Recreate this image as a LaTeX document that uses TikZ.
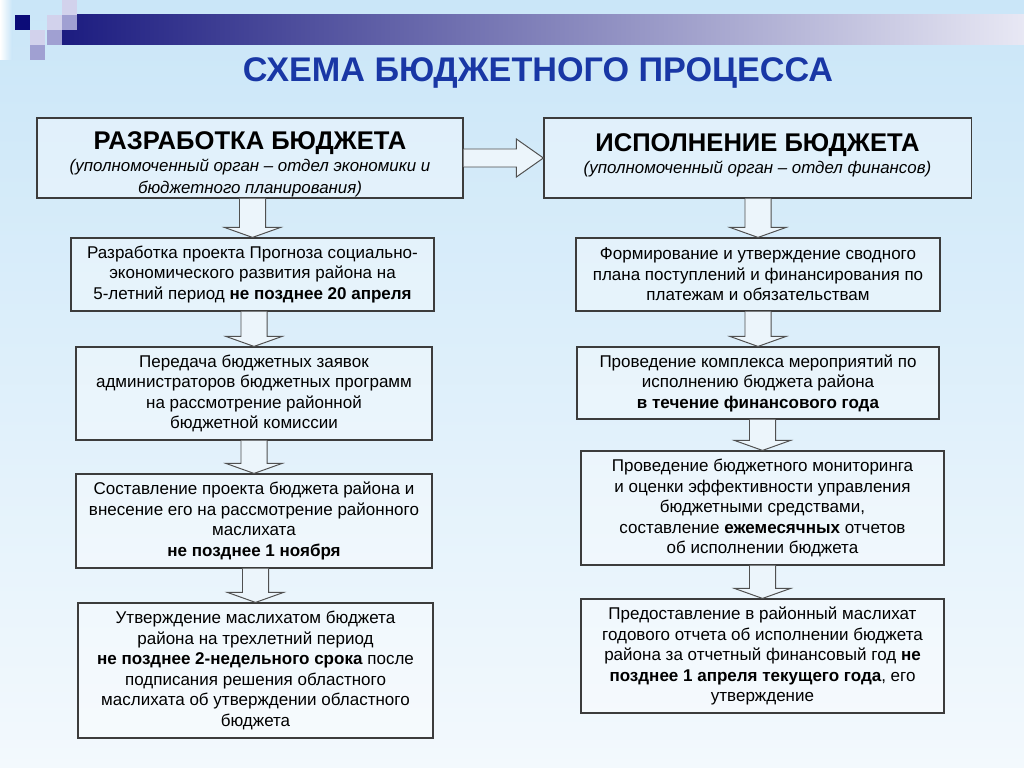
\documentclass[tikz,border=0pt]{standalone}
\usepackage{fontspec}
\setmainfont{Liberation Sans}
\usetikzlibrary{calc}

\definecolor{bgtop}{RGB}{202,230,248}
\definecolor{bgbot}{RGB}{243,249,253}
\definecolor{titleblue}{RGB}{25,55,165}
\definecolor{barnavy}{RGB}{28,28,128}
\definecolor{barend}{RGB}{232,232,244}
\definecolor{boxline}{RGB}{60,60,60}
\definecolor{arrowline}{RGB}{80,80,80}
\definecolor{arrowfill}{RGB}{236,245,251}
\definecolor{sqnavy}{RGB}{12,12,120}
\definecolor{sqmid}{RGB}{160,160,210}
\definecolor{sqlight}{RGB}{210,210,236}

\newcommand{\downblock}[2]{%
\draw[blockarrow] let \p1=(#1.south), \p2=(#2.north) in
  (\x2-9.25pt,\y1) -- (\x2-9.25pt,\y2+7.1pt) -- (\x2-19.9pt,\y2+7.1pt) -- (\x2,\y2)
  -- (\x2+19.9pt,\y2+7.1pt) -- (\x2+9.25pt,\y2+7.1pt) -- (\x2+9.25pt,\y1);}

\begin{document}
\begin{tikzpicture}[x=0.025cm,y=-0.025cm,
  box/.style={draw=boxline,line width=0.8pt,fill=white,fill opacity=0.35,text opacity=1,
    align=center,inner sep=2pt,font=\fontsize{12.1}{14.6}\selectfont},
  headbox/.style={box,inner ysep=0pt,font=\fontsize{12}{15.6}\selectfont\itshape},
  blockarrow/.style={draw=arrowline,fill=arrowfill,line width=0.7pt}]
\useasboundingbox (0,0) rectangle (1024,768);
\shade[top color=bgtop,bottom color=bgbot] (0,0) rectangle (1024,768);

% top strip
\shade[left color=white,right color=bgtop] (0,0) rectangle (12,60);
\shade[left color=barnavy,right color=barend] (62,15) rectangle (1024,45);
\fill[sqnavy] (15,15) rectangle (30,30);
\fill[sqlight] (62,0) rectangle (77,15);
\fill[sqlight] (47,15) rectangle (62,30);
\fill[sqmid] (62,15) rectangle (77,30);
\fill[sqlight] (30,30) rectangle (45,45);
\fill[sqmid] (47,30) rectangle (62,45);
\fill[sqmid] (30,45) rectangle (45,60);

\node[anchor=base,text=titleblue,font=\fontsize{24.3}{29}\selectfont\bfseries] (title) at (538,82) {СХЕМА БЮДЖЕТНОГО ПРОЦЕССА};

\node[headbox,minimum width=10.65cm,minimum height=2cm] (razr) at (250,158)
  {{\fontsize{18.2}{20}\selectfont\bfseries\upshape\rule{0pt}{22pt}РАЗРАБОТКА БЮДЖЕТА}\\
   (уполномоченный орган – отдел экономики и\\ бюджетного планирования)};
\node[headbox,minimum width=10.675cm,minimum height=2cm] (isp) at (757.5,158)
  {{\fontsize{18.2}{20}\selectfont\bfseries\upshape\rule{0pt}{22pt}ИСПОЛНЕНИЕ БЮДЖЕТА}\\
   (уполномоченный орган – отдел финансов)\\ \mbox{}};

\node[box,minimum width=9.075cm,minimum height=1.825cm] (l1) at (252.5,274.5)
  {Разработка проекта Прогноза социально-\\ экономического развития района на\\
   5-летний период \textbf{не позднее 20 апреля}};
\node[box,minimum width=8.9cm,minimum height=2.325cm] (l2) at (254,393.5)
  {Передача бюджетных заявок\\ администраторов бюджетных программ\\
   на рассмотрение районной\\ бюджетной комиссии};
\node[box,minimum width=8.9cm,minimum height=2.35cm] (l3) at (254,521)
  {Составление проекта бюджета района и\\ внесение его на рассмотрение районного\\
   маслихата\\ \textbf{не позднее 1 ноября}};
\node[box,minimum width=8.875cm,minimum height=3.375cm] (l4) at (255.5,670.5)
  {Утверждение маслихатом бюджета\\ района на трехлетний период\\
   \textbf{не позднее 2-недельного срока} после\\ подписания решения областного\\
   маслихата об утверждении областного\\ бюджета};

\node[box,minimum width=9.1cm,minimum height=1.825cm] (r1) at (758,274.5)
  {Формирование и утверждение сводного\\ плана поступлений и финансирования по\\
   платежам и обязательствам};
\node[box,minimum width=9.05cm,minimum height=1.8cm] (r2) at (758,383)
  {Проведение комплекса мероприятий по\\ исполнению бюджета района\\
   \textbf{в течение финансового года}};
\node[box,minimum width=9.075cm,minimum height=2.85cm] (r3) at (762.5,508)
  {Проведение бюджетного мониторинга\\ и оценки эффективности управления\\
   бюджетными средствами,\\ составление \textbf{ежемесячных} отчетов\\
   об исполнении бюджета};
\node[box,minimum width=9.075cm,minimum height=2.85cm] (r4) at (762.5,656)
  {Предоставление в районный маслихат\\ годового отчета об исполнении бюджета\\
   района за отчетный финансовый год \textbf{не}\\
   \textbf{позднее 1 апреля текущего года}, его\\ утверждение};

% arrows
\draw[blockarrow] let \p1=(razr.east), \p2=(isp.west) in
  (\x1,\y1+6.4pt) -- (\x2-19.2pt,\y1+6.4pt) -- (\x2-19.2pt,\y1+13.5pt) -- (\x2,\y1)
  -- (\x2-19.2pt,\y1-13.5pt) -- (\x2-19.2pt,\y1-6.4pt) -- (\x1,\y1-6.4pt);
\foreach \a/\b in {razr/l1,l1/l2,l2/l3,l3/l4,isp/r1,r1/r2,r2/r3,r3/r4}
  \downblock{\a}{\b};

\end{tikzpicture}
\end{document}
